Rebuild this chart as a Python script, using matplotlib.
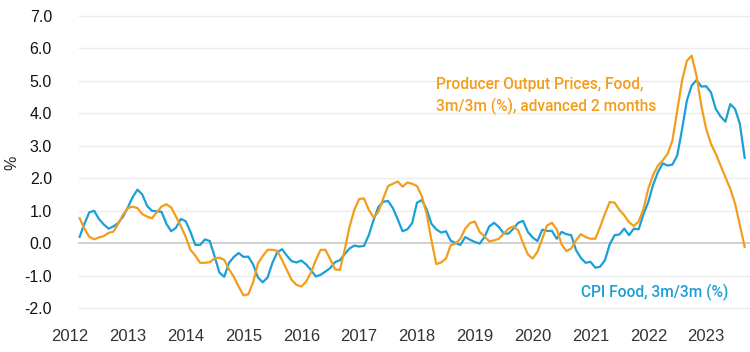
import numpy as np
import matplotlib
matplotlib.use("Agg")
import matplotlib.pyplot as plt

# monthly, Mar 2012 .. Sep 2023
start_year, start_month = 2012, 3

cpi_food = [
    0.2, 0.6, 0.95, 1.0, 0.75, 0.58, 0.45, 0.52, 0.62, 0.82,
    1.1, 1.42, 1.65, 1.5, 1.15, 1.0, 0.98, 0.97, 0.6, 0.37,
    0.48, 0.75, 0.68, 0.35, -0.05, -0.05, 0.12, 0.07, -0.4, -0.9,
    -1.03, -0.6, -0.42, -0.3, -0.42, -0.41, -0.65, -1.05, -1.2, -1.05,
    -0.6, -0.28, -0.18, -0.38, -0.55, -0.59, -0.53, -0.65, -0.82, -1.02,
    -0.97, -0.87, -0.76, -0.58, -0.52, -0.33, -0.16, -0.07, -0.1, -0.08,
    0.25, 0.72, 1.12, 1.28, 1.3, 1.08, 0.74, 0.37, 0.43, 0.62,
    1.25, 1.33, 1.05, 0.6, 0.43, 0.33, 0.37, 0.08, 0.01, -0.05,
    0.19, 0.11, 0.04, -0.01, 0.19, 0.52, 0.63, 0.5, 0.3, 0.3,
    0.45, 0.63, 0.69, 0.35, 0.18, 0.07, 0.42, 0.38, 0.38, 0.14,
    0.35, 0.28, 0.25, -0.21, -0.45, -0.6, -0.57, -0.75, -0.72, -0.52,
    -0.03, 0.25, 0.27, 0.45, 0.25, 0.45, 0.43, 0.9, 1.27, 1.8,
    2.19, 2.46, 2.39, 2.42, 2.7, 3.5, 4.39, 4.85, 5.02, 4.82,
    4.83, 4.64, 4.13, 3.9, 3.74, 4.28, 4.13, 3.67, 2.63,
]

ppi_food = [
    0.77, 0.45, 0.2, 0.12, 0.18, 0.22, 0.32, 0.36, 0.6, 0.88,
    1.08, 1.13, 1.08, 0.9, 0.82, 0.77, 0.95, 1.13, 1.2, 1.1,
    0.82, 0.53, 0.2, -0.2, -0.38, -0.6, -0.6, -0.58, -0.47, -0.44,
    -0.51, -0.8, -1.03, -1.33, -1.6, -1.57, -1.2, -0.62, -0.39, -0.2,
    -0.2, -0.23, -0.51, -0.82, -1.13, -1.28, -1.33, -1.18, -0.9, -0.52,
    -0.2, -0.2, -0.49, -0.8, -0.82, -0.2, 0.51, 1.03, 1.36, 1.38,
    1.03, 0.79, 0.97, 1.38, 1.76, 1.83, 1.9, 1.74, 1.87, 1.83,
    1.76, 1.45, 0.91, 0.09, -0.64, -0.59, -0.47, -0.06, -0.01, 0.14,
    0.45, 0.62, 0.67, 0.35, 0.21, 0.06, 0.09, 0.14, 0.3, 0.45,
    0.52, 0.4, 0.01, -0.34, -0.47, -0.26, 0.14, 0.55, 0.63, 0.43,
    -0.03, -0.24, -0.16, 0.09, 0.28, 0.19, 0.14, 0.14, 0.5, 0.91,
    1.27, 1.25, 1.03, 0.86, 0.65, 0.53, 0.67, 1.06, 1.68, 2.1,
    2.39, 2.55, 2.75, 3.16, 4.08, 5.0, 5.61, 5.77, 5.15, 4.23,
    3.52, 3.06, 2.75, 2.39, 2.03, 1.68, 1.22, 0.55, -0.11,
]

years = list(range(2012, 2024))
yticks = [-2, -1, 0, 1, 2, 3, 4, 5, 6, 7]

orange = "#F29D1B"
blue = "#1AA0D6"

n = len(cpi_food)
t = start_year + (start_month - 1 + np.arange(n)) / 12.0

fig = plt.figure(figsize=(7.5, 3.52), dpi=100)
ax = fig.add_axes([70 / 750, 1 - 322 / 352, 680 / 750, (322 - 15) / 352])

for y in yticks:
    ax.axhline(y, xmin=0.013, xmax=1, color="#c8c8c8" if y == 0 else "#ececec",
               lw=1.2 if y == 0 else 1.0, zorder=0)

ax.plot(t, ppi_food, color=orange, lw=1.6, zorder=3)
ax.plot(t, cpi_food, color=blue, lw=1.6, zorder=2)

ax.set_xlim(2012.0, 2012.0 + 141.1 / 12)
ax.set_ylim(-2.42, 7.02)
ax.set_xticks(years)
ax.set_xticklabels([str(y) for y in years], fontsize=12, color="#333333",
                   family="Liberation Sans")
ax.set_yticks(yticks)
ax.set_yticklabels([f"{v:.1f}" for v in yticks], fontsize=11.5, color="#111111",
                   family="Liberation Sans")
ax.tick_params(length=0)
ax.tick_params(axis="y", pad=13)
ax.tick_params(axis="x", pad=5)
for s in ax.spines.values():
    s.set_visible(False)

fig.text(12 / 750, 1 - 163 / 352, "%", rotation=90, fontsize=11.5, color="#222222",
         ha="center", va="center", family="Liberation Sans")

narrow = ["Roboto", "DejaVu Sans"]
fig.text(436 / 750, 1 - 111 / 352, "Producer Output Prices, Food,\n3m/3m (%), advanced 2 months",
         color=orange, fontsize=11.2, family=narrow, weight="medium", ha="left",
         va="baseline", linespacing=1.45)
fig.text(728 / 750, 1 - 297 / 352, "CPI Food, 3m/3m (%)", color=blue, fontsize=11.2,
         family=narrow, weight="medium", ha="right", va="baseline")

fig.savefig("out.png", dpi=100)
